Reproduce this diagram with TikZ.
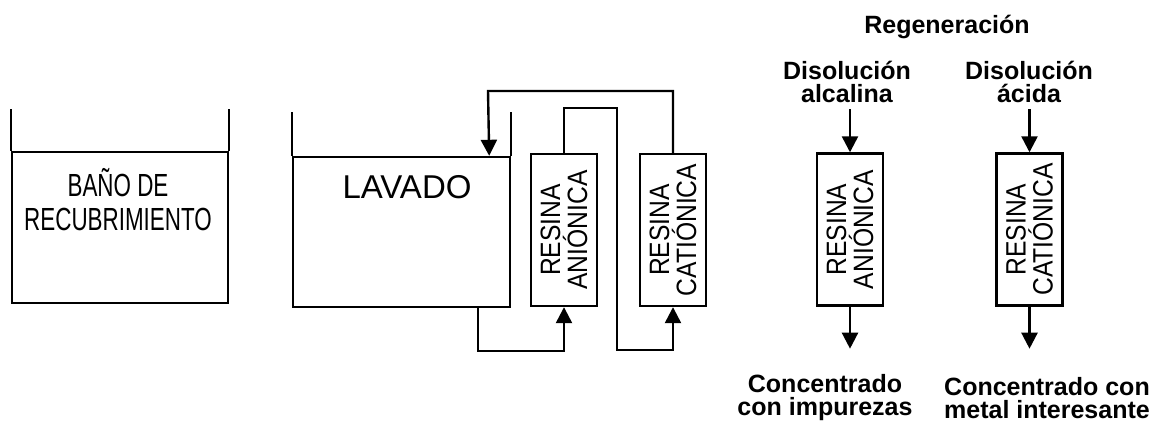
\documentclass[tikz,border=0pt]{standalone}
\usepackage{fontspec}
\setmainfont{Liberation Sans}
\newfontfamily\estrecha[FakeStretch=0.7]{Liberation Sans}
\newfontfamily\resfont[FakeStretch=0.88]{Liberation Sans}
\usetikzlibrary{arrows.meta}

\tikzset{
  tubo/.style={line width=1.2pt},
  flecha/.style={tubo, -{Triangle[length=8pt,width=8pt]}},
  tanque/.style={draw, line width=1.2pt, inner sep=0pt},
  resina/.style={draw, line width=1.2pt, minimum width=33pt, minimum height=76pt, inner sep=0pt},
  resinatxt/.style={rotate=90, align=center, inner sep=0pt, font=\resfont\fontsize{14}{13.5}\selectfont},
  negrita/.style={align=center, inner sep=3pt, font=\bfseries\fontsize{12.5}{11.5}\selectfont},
}

\begin{document}
\begin{tikzpicture}[x=0.5pt,y=-0.5pt]
		\useasboundingbox (0,0) rectangle (1151,422);
		% bano de recubrimiento
		\node[tanque, minimum width=108pt, minimum height=75.5pt] (bano) at (120,227.5) {};
		\draw[tubo] (bano.north west) -- ++(0,-42);
		\draw[tubo] (bano.north east) -- ++(0,-42);
		\node[inner sep=0pt, align=center, font=\estrecha\fontsize{16}{17}\selectfont] (banotxt) at (118,200) {BAÑO DE\\RECUBRIMIENTO};
		% lavado
		\node[tanque, minimum width=108.5pt, minimum height=75pt] (lavado) at (401.5,232) {};
		\draw[tubo] (lavado.north west) -- ++(0,-44);
		\draw[tubo] (lavado.north east) -- ++(0,-44);
		\node[inner sep=0pt, font=\fontsize{16.5}{17}\selectfont] (lavtxt) at (407,187) {LAVADO};
		% resinas
		\node[resina] (resA) at (564,230) {};
		\node[resinatxt] (resAtxt) at (resA) {RESINA\\ANIÓNICA};
		\node[resina] (resC) at (673,230) {};
		\node[resinatxt] (resCtxt) at (resC) {RESINA\\CATIÓNICA};
		\draw[flecha] ([xshift=-16.5pt]lavado.south east) -- ++(0,43) -| (resA.south);
		\draw[flecha] (resA.north) |- (617,108) -- (617,350) -| (resC.south);
		\draw[flecha] (resC.north) |- (488,91) -- ([xshift=-11pt]lavado.north east);
		% regeneracion
		\node[negrita] (regen) at (947,27) {Regeneración};
		\node[negrita] (disA) at (847,82) {Disolución\\alcalina};
		\node[negrita] (disC) at (1029,82) {Disolución\\ácida};
		\node[resina] (regA) at (850,229.5) {};
		\node[resinatxt] (regAtxt) at (regA) {RESINA\\ANIÓNICA};
		\node[resina] (regC) at (1029.5,229.5) {};
		\node[resinatxt] (regCtxt) at (regC) {RESINA\\CATIÓNICA};
		\draw[flecha] (disA.south -| regA.north) -- (regA.north);
		\draw[flecha] (disC.south -| regC.north) -- (regC.north);
		\draw[flecha] (regA.south) -- ++(0,42) coordinate (finA);
		\draw[flecha] (regC.south) -- ++(0,42) coordinate (finC);
		\node[negrita] (concA) at (825,398) {Concentrado\\con impurezas};
		\node[negrita] (concC) at (1047,398) {Concentrado con\\metal interesante};
	\end{tikzpicture}
\end{document}
